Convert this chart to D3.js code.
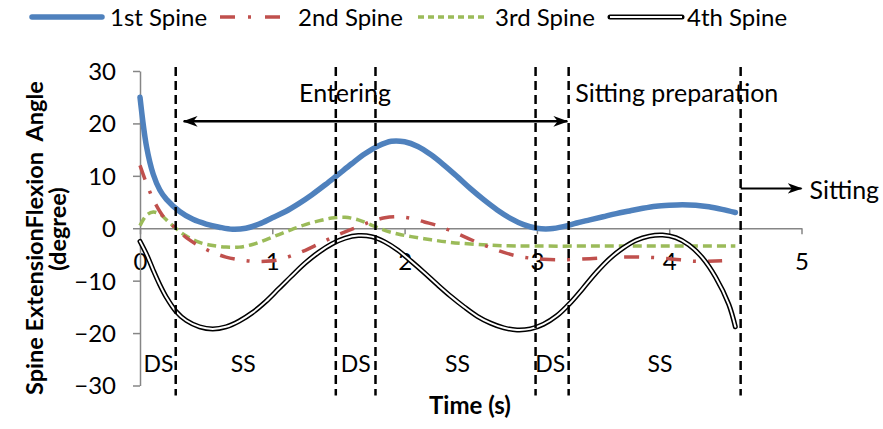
<!DOCTYPE html>
<html>
<head>
<meta charset="utf-8">
<script src="https://cdn.jsdelivr.net/npm/d3@7"></script>
<style>
  body { margin: 0; background: #fff; }
  #app { width: 883px; height: 429px; }
  text { font-family: Lato, "Open Sans", sans-serif; fill: #000; }
</style>
</head>
<body>
<div id="app"></div>
<script>
// time samples (s) and angles (degree)
const spine1 = [[0,25],[0.05,15.5],[0.1,10.3],[0.15,7.3],[0.2,5.5],[0.3,3.2],[0.4,1.7],[0.5,0.8],[0.6,0.2],[0.7,-0.2],[0.8,0],[0.9,0.8],[1.0,2],[1.1,3.2],[1.2,4.7],[1.3,6.4],[1.4,8.3],[1.5,10.3],[1.6,12.3],[1.7,14.2],[1.8,15.7],[1.9,16.6],[2.0,16.5],[2.1,15.6],[2.2,14],[2.3,12],[2.4,9.8],[2.5,7.5],[2.6,5.4],[2.7,3.5],[2.8,1.9],[2.9,0.7],[3.0,0],[3.1,-0.1],[3.2,0.3],[3.3,1],[3.4,1.6],[3.5,2.2],[3.6,2.8],[3.7,3.3],[3.8,3.8],[3.9,4.2],[4.0,4.4],[4.1,4.5],[4.2,4.4],[4.3,4.1],[4.4,3.6],[4.5,3.0]];
const spine2 = [[0,12],[0.05,8.5],[0.1,5.5],[0.15,3.2],[0.2,1.5],[0.27,0],[0.35,-1.8],[0.45,-3.4],[0.55,-4.6],[0.65,-5.5],[0.75,-6],[0.85,-6.3],[0.95,-6.3],[1.05,-6],[1.15,-5.2],[1.25,-4.2],[1.35,-3],[1.45,-1.8],[1.55,-0.7],[1.65,0.3],[1.75,1.3],[1.85,2],[1.95,2.2],[2.05,1.9],[2.15,1.2],[2.25,0.5],[2.35,-0.5],[2.45,-1.6],[2.55,-2.7],[2.65,-3.7],[2.75,-4.6],[2.85,-5.3],[2.95,-5.7],[3.05,-5.9],[3.2,-6],[3.4,-5.8],[3.6,-5.5],[3.8,-5.5],[4.0,-5.8],[4.2,-6.3],[4.4,-6.2]];
const spine3 = [[0,0.5],[0.05,2.5],[0.1,3.1],[0.15,2.7],[0.2,1.6],[0.27,0],[0.35,-1.5],[0.45,-2.7],[0.55,-3.3],[0.65,-3.6],[0.75,-3.6],[0.85,-3.1],[0.95,-2.2],[1.05,-1.2],[1.15,-0.2],[1.25,0.7],[1.35,1.4],[1.45,1.95],[1.55,2.1],[1.65,1.6],[1.75,0.6],[1.85,-0.4],[1.95,-1.1],[2.05,-1.6],[2.2,-2.2],[2.35,-2.7],[2.5,-3.0],[2.7,-3.3],[3.0,-3.4],[3.5,-3.4],[4.0,-3.4],[4.5,-3.4]];
const spine4 = [[0,-2.5],[0.05,-5],[0.1,-8],[0.15,-10.8],[0.2,-13.2],[0.27,-15.8],[0.35,-17.6],[0.45,-18.8],[0.55,-19.2],[0.65,-18.8],[0.75,-17.7],[0.85,-16.1],[0.95,-14],[1.05,-11.5],[1.15,-9],[1.25,-6.6],[1.35,-4.6],[1.45,-3],[1.55,-1.9],[1.65,-1.4],[1.75,-1.6],[1.85,-2.6],[1.95,-4.2],[2.05,-6.3],[2.15,-8.5],[2.25,-10.8],[2.35,-13],[2.45,-15],[2.55,-16.8],[2.65,-18.1],[2.75,-19],[2.85,-19.4],[2.95,-19.2],[3.05,-18.3],[3.15,-16.7],[3.25,-14.3],[3.35,-11.4],[3.45,-8.4],[3.55,-5.8],[3.65,-3.8],[3.75,-2.3],[3.85,-1.5],[3.95,-1.3],[4.05,-1.8],[4.15,-3.2],[4.25,-5.6],[4.35,-9.3],[4.45,-14.5],[4.5,-18.8]];

const seriesNames = ['1st Spine', '2nd Spine', '3rd Spine', '4th Spine'];
const xTicks = [0, 1, 2, 3, 4, 5];
const yTicks = [30, 20, 10, 0, -10, -20, -30];

// phase boundaries (s) and gait phase labels
const phaseBounds = [0.27, 1.48, 1.78, 2.99, 3.24, 4.54];
const phaseLabels = [
	{ t: 0.14, text: 'DS' }, { t: 0.78, text: 'SS' }, { t: 1.63, text: 'DS' },
	{ t: 2.4, text: 'SS' }, { t: 3.1, text: 'DS' }, { t: 3.93, text: 'SS' }
];

const app = d3.select('#app');
const svg = app.append('svg').attr('width', 883).attr('height', 429);

const margin = { top: 71, left: 140 },
	width = 661.5,
	height = 314.5;

const x = d3.scaleLinear().domain([0, 5]).range([0, width]);
const y = d3.scaleLinear().domain([-30, 30]).range([height, 0]);

const g = svg.append('g').attr('transform', `translate(${margin.left},${margin.top})`);

// x axis at y = 0
const xAxis = g.append('g')
	.attr('transform', `translate(0,${y(0)})`)
	.call(d3.axisBottom(x).tickValues(xTicks).tickSize(6).tickSizeOuter(0).tickFormat(d3.format('d')));
xAxis.select('.domain').attr('stroke', '#868686').attr('stroke-width', 1.5);
xAxis.selectAll('.tick line').attr('stroke', '#868686').attr('stroke-width', 1.5);
xAxis.selectAll('.tick text')
	.attr('font-size', 24).attr('font-family', 'Lato, sans-serif').attr('fill', '#000')
	.attr('dy', null).attr('y', 42);

// y axis
const yAxis = g.append('g')
	.call(d3.axisLeft(y).tickValues(yTicks).tickSize(7).tickSizeOuter(0).tickFormat(d3.format('d')));
yAxis.select('.domain').attr('stroke', '#868686').attr('stroke-width', 1.5);
yAxis.selectAll('.tick line').attr('stroke', '#868686').attr('stroke-width', 1.5);
yAxis.selectAll('.tick text')
	.attr('font-size', 24).attr('font-family', 'Lato, sans-serif').attr('fill', '#000')
	.attr('x', -24).attr('dy', '0.35em');

const line = d3.line()
	.x(d => x(d[0]))
	.y(d => y(d[1]))
	.curve(d3.curveCatmullRom.alpha(0.5));

const curves = g.append('g').attr('fill', 'none').attr('stroke-linecap', 'round');

curves.append('path').datum(spine3).attr('d', line)
	.attr('stroke', '#9BBB59').attr('stroke-width', 3.5).attr('stroke-dasharray', '9,5').attr('stroke-linecap', 'butt');
curves.append('path').datum(spine2).attr('d', line)
	.attr('stroke', '#C0504D').attr('stroke-width', 3.5).attr('stroke-dasharray', '15,12,3,12').attr('stroke-linecap', 'butt');
curves.append('path').datum(spine4).attr('d', line)
	.attr('stroke', '#000').attr('stroke-width', 5);
curves.append('path').datum(spine4).attr('d', line)
	.attr('stroke', '#fff').attr('stroke-width', 2);
curves.append('path').datum(spine1).attr('d', line)
	.attr('stroke', '#4F81BD').attr('stroke-width', 5.5);

// phase boundaries
g.append('g').selectAll('line')
	.data(phaseBounds)
	.enter().append('line')
	.attr('x1', d => x(d)).attr('x2', d => x(d))
	.attr('y1', -4).attr('y2', height + 10)
	.attr('stroke', '#000').attr('stroke-width', 2.5).attr('stroke-dasharray', '9,5');

g.append('g').selectAll('text')
	.data(phaseLabels)
	.enter().append('text')
	.attr('x', d => x(d.t)).attr('y', y(-27.5))
	.attr('text-anchor', 'middle').attr('font-size', 23)
	.text(d => d.text);

// arrow markers
const defs = svg.append('defs');
defs.append('marker')
	.attr('id', 'arrow')
	.attr('viewBox', '0 0 14 10')
	.attr('refX', 13).attr('refY', 5)
	.attr('markerUnits', 'userSpaceOnUse')
	.attr('markerWidth', 15).attr('markerHeight', 11)
	.attr('orient', 'auto-start-reverse')
	.append('path')
	.attr('d', 'M0,0 L14,5 L0,10 L4,5 Z')
	.attr('fill', '#000');

g.append('line')
	.attr('x1', x(0.33)).attr('x2', x(3.23))
	.attr('y1', y(20.4)).attr('y2', y(20.4))
	.attr('stroke', '#000').attr('stroke-width', 2.5)
	.attr('marker-start', 'url(#arrow)').attr('marker-end', 'url(#arrow)');

g.append('line')
	.attr('x1', x(4.54)).attr('x2', x(5.0))
	.attr('y1', y(7.6)).attr('y2', y(7.6))
	.attr('stroke', '#000').attr('stroke-width', 2)
	.attr('marker-end', 'url(#arrow)');

g.append('text').attr('x', x(1.55)).attr('y', y(24.1))
	.attr('text-anchor', 'middle').attr('font-size', 25).text('Entering');
g.append('text').attr('x', x(3.29)).attr('y', y(24.0))
	.attr('font-size', 25).text('Sitting preparation');
g.append('text').attr('x', x(5.06)).attr('y', y(5.6))
	.attr('font-size', 25).text('Sitting');

// axis titles
svg.append('text')
	.attr('x', 470).attr('y', 414)
	.attr('text-anchor', 'middle').attr('font-size', 24).attr('font-weight', 'bold')
	.text('Time (s)');

const yTitle = svg.append('text')
	.attr('transform', 'rotate(-90)')
	.attr('text-anchor', 'middle').attr('font-size', 23.5).attr('font-weight', 'bold')
	.style('white-space', 'pre');
yTitle.append('tspan').attr('x', -238).attr('y', 43).text('Spine ExtensionFlexion  Angle');
yTitle.append('tspan').attr('x', -229).attr('y', 66).text('(degree)');

// legend
const legend = svg.append('g').attr('class', 'legend');
const legendLine = [[32, 102], [220, 280], [418, 488], [610, 682]];
const legendText = [110, 298, 495, 687];

seriesNames.forEach(function (name, i) {
	const it = legend.append('g').attr('transform', 'translate(0,17)');
	const [x1, x2] = legendLine[i];
	if (i === 0) {
		it.append('line').attr('x1', x1).attr('x2', x2).attr('stroke', '#4F81BD').attr('stroke-width', 5.5).attr('stroke-linecap', 'round');
	} else if (i === 1) {
		it.append('line').attr('x1', x1).attr('x2', x2).attr('stroke', '#C0504D').attr('stroke-width', 3.5).attr('stroke-dasharray', '15,13,3,14');
	} else if (i === 2) {
		it.append('line').attr('x1', x1).attr('x2', x2).attr('stroke', '#9BBB59').attr('stroke-width', 3.5).attr('stroke-dasharray', '6,4');
	} else {
		it.append('line').attr('x1', x1).attr('x2', x2).attr('stroke', '#000').attr('stroke-width', 5).attr('stroke-linecap', 'round');
		it.append('line').attr('x1', x1).attr('x2', x2).attr('stroke', '#fff').attr('stroke-width', 2);
	}
	it.append('text')
		.attr('x', legendText[i]).attr('y', 9)
		.attr('font-size', 24)
		.text(name);
});
</script>
</body>
</html>
